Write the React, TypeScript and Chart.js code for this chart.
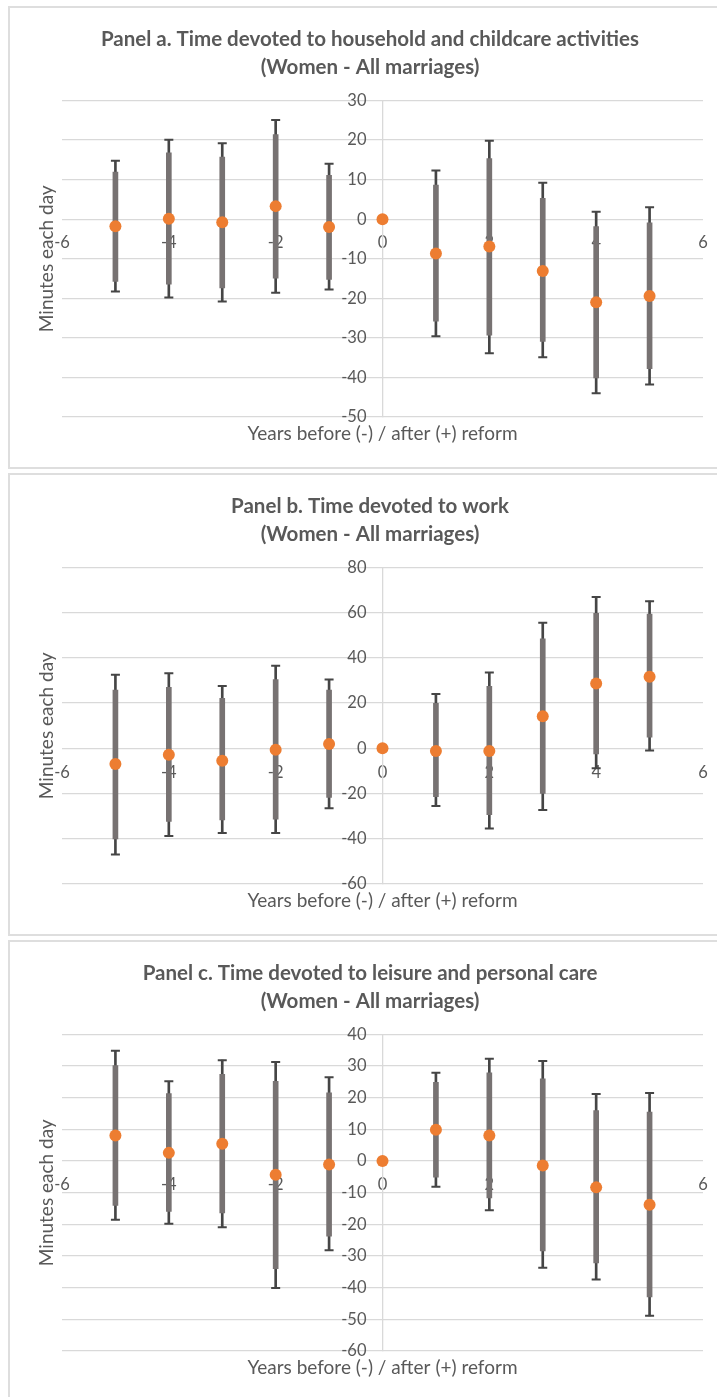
import React, { useEffect, useRef } from "react";
import { Chart, registerables } from "chart.js";

Chart.register(...registerables);

// ---------- data ----------
const years = [-5, -4, -3, -2, -1, 0, 1, 2, 3, 4, 5];
const xAxisTitle = "Years before (-) / after (+) reform";
const yAxisTitle = "Minutes each day";
const subtitle = "(Women - All marriages)";

// Panel a: household and childcare
const aTitle = "Panel a. Time devoted to household and childcare activities";
const aMean = [-1.8, 0.1, -0.8, 3.3, -2.0, 0, -8.7, -6.9, -13.1, -21.0, -19.4];
const aInnerLo = [-15.7, -16.4, -17.4, -14.9, -15.2, null, -25.8, -29.3, -30.9, -40.1, -37.8];
const aInnerHi = [11.9, 16.8, 15.7, 21.4, 11.1, null, 8.6, 15.3, 5.3, -1.9, -0.9];
const aOuterLo = [-18.3, -19.8, -20.8, -18.6, -17.8, null, -29.6, -33.9, -34.9, -44.0, -41.8];
const aOuterHi = [14.8, 20.1, 19.2, 25.1, 14.0, null, 12.3, 19.8, 9.2, 1.9, 3.0];
const aYRange = [-50, 30, 10];

// Panel b: work
const bTitle = "Panel b. Time devoted to work";
const bMean = [-6.9, -2.8, -5.5, -0.6, 1.9, 0, -1.2, -1.2, 14.2, 28.7, 31.7];
const bInnerLo = [-40.1, -32.3, -31.7, -31.3, -21.7, null, -21.4, -29.3, -19.9, -2.5, 4.9];
const bInnerHi = [25.8, 27.0, 22.1, 30.4, 25.8, null, 19.9, 27.4, 48.4, 59.7, 59.4];
const bOuterLo = [-47.0, -38.8, -37.4, -37.4, -26.5, null, -25.5, -35.4, -27.3, -8.8, -0.9];
const bOuterHi = [32.6, 33.2, 27.6, 36.5, 30.5, null, 24.0, 33.5, 55.6, 66.9, 65.1];
const bYRange = [-60, 80, 20];

// Panel c: leisure and personal care
const cTitle = "Panel c. Time devoted to leisure and personal care";
const cMean = [8.1, 2.6, 5.5, -4.3, -1.1, 0, 9.9, 8.1, -1.4, -8.3, -13.8];
const cInnerLo = [-14.0, -15.9, -16.4, -34.0, -23.7, null, -5.1, -11.6, -28.4, -32.2, -42.9];
const cInnerHi = [30.2, 21.3, 27.4, 25.2, 21.6, null, 24.9, 27.9, 26.0, 16.0, 15.5];
const cOuterLo = [-18.5, -19.8, -20.9, -40.1, -28.2, null, -8.1, -15.5, -33.7, -37.4, -48.9];
const cOuterHi = [34.9, 25.2, 31.9, 31.3, 26.5, null, 27.9, 32.3, 31.6, 21.2, 21.5];
const cYRange = [-60, 40, 10];

const xRange = [-6, 6, 2];

// ---------- styles ----------
const ORANGE = "#ED7D31";
const THICK = "#777272";
const THIN = "#454545";
const GRID = "#d9d9d9";
const TEXT = "#595959";
const FONT = "Lato, 'Open Sans', sans-serif";

type Spec = {
  title: string;
  top: number;
  mean: number[];
  innerLo: (number | null)[];
  innerHi: (number | null)[];
  outerLo: (number | null)[];
  outerHi: (number | null)[];
  yRange: number[];
};

const specs: Spec[] = [
  { title: aTitle, top: 6, mean: aMean, innerLo: aInnerLo, innerHi: aInnerHi, outerLo: aOuterLo, outerHi: aOuterHi, yRange: aYRange },
  { title: bTitle, top: 473, mean: bMean, innerLo: bInnerLo, innerHi: bInnerHi, outerLo: bOuterLo, outerHi: bOuterHi, yRange: bYRange },
  { title: cTitle, top: 940, mean: cMean, innerLo: cInnerLo, innerHi: cInnerHi, outerLo: cOuterLo, outerHi: cOuterHi, yRange: cYRange },
];

const W = 724;
const H = 463;
const Y_LABEL_GAP = 16;

function Panel({ spec }: { spec: Spec }) {
  const ref = useRef<HTMLCanvasElement>(null);
  useEffect(() => {
    const canvas = ref.current!;
    const ranges = (lo: (number | null)[], hi: (number | null)[]) =>
      years
        .map((x, i) => (lo[i] == null || hi[i] == null ? null : { x, y: [lo[i], hi[i]] }))
        .filter((d) => d !== null);
    const caps = years.flatMap((x, i) =>
      spec.outerLo[i] == null ? [] : [{ x, y: spec.outerHi[i] }, { x, y: spec.outerLo[i] }]
    );
    const shiftYLabels = {
      id: "shiftYLabels",
      beforeDraw(chart: any) {
        const scale = chart.scales.y;
        const items = scale.getLabelItems(chart.chartArea);
        if (!scale.__shifted) {
          items.forEach((it: any) => {
            it.options.translation = [it.options.translation[0] - Y_LABEL_GAP, it.options.translation[1]];
          });
          scale.__shifted = true;
        }
      },
    };
    const textPlugin = {
      id: "panelText",
      afterDraw(chart: any) {
        const { ctx, chartArea } = chart;
        ctx.save();
        ctx.fillStyle = TEXT;
        ctx.textAlign = "center";
        ctx.textBaseline = "middle";
        ctx.font = `bold 20.5px ${FONT}`;
        ctx.fillText(spec.title, chart.width / 2, 33);
        ctx.fillText(subtitle, chart.width / 2, 61);
        ctx.font = `19px ${FONT}`;
        ctx.fillText(xAxisTitle, (chartArea.left + chartArea.right) / 2, chartArea.bottom + 17);
        ctx.translate(39, (chartArea.top + chartArea.bottom) / 2);
        ctx.rotate(-Math.PI / 2);
        ctx.fillText(yAxisTitle, 0, 0);
        ctx.restore();
      },
    };
    const chart = new Chart(canvas, {
      type: "scatter",
      data: {
        datasets: [
          {
            type: "scatter",
            label: "mean",
            data: years.map((x, i) => ({ x, y: spec.mean[i] })),
            pointRadius: 6,
            pointBackgroundColor: ORANGE,
            pointBorderColor: ORANGE,
            pointBorderWidth: 0,
            order: 0,
          },
          {
            type: "bar",
            label: "inner",
            data: ranges(spec.innerLo, spec.innerHi) as any,
            backgroundColor: THICK,
            borderWidth: 0,
            barThickness: 5,
            grouped: false,
            order: 1,
          },
          {
            type: "scatter",
            label: "caps",
            data: caps as any,
            pointStyle: "line",
            pointRadius: 4.5,
            pointBorderWidth: 2,
            pointBorderColor: THIN,
            order: 2,
          },
          {
            type: "bar",
            label: "outer",
            data: ranges(spec.outerLo, spec.outerHi) as any,
            backgroundColor: THIN,
            borderWidth: 0,
            barThickness: 2,
            grouped: false,
            order: 3,
          },
        ] as any,
      },
      options: {
        animation: false,
        responsive: false,
        events: [],
        layout: { padding: { left: 54, right: 29, top: 94.5, bottom: 52 } },
        plugins: { legend: { display: false }, tooltip: { enabled: false }, title: { display: false } },
        scales: {
          x: {
            type: "linear",
            min: xRange[0],
            max: xRange[1],
            offset: false,
            position: { y: 0 } as any,
            ticks: { stepSize: xRange[2], color: TEXT, font: { family: FONT, size: 16.5 }, padding: 14 },
            grid: { display: false, drawTicks: false },
            border: { display: false },
          },
          y: {
            type: "linear",
            min: spec.yRange[0],
            max: spec.yRange[1],
            position: { x: 0 } as any,
            ticks: { stepSize: spec.yRange[2], color: TEXT, font: { family: FONT, size: 16.5 }, padding: 0 },
            grid: { color: GRID, lineWidth: 1.3, drawTicks: false },
            border: { display: true, color: GRID, width: 1.3 },
          },
        },
      } as any,
      plugins: [shiftYLabels, textPlugin],
    });
    return () => chart.destroy();
  }, [spec]);

  return (
    <div
      style={{
        position: "absolute",
        left: 8,
        top: spec.top,
        width: W,
        height: H,
        border: "2px solid #dedede",
        boxSizing: "border-box",
        background: "#fff",
      }}
    >
      <canvas
        ref={ref}
        width={W}
        height={H}
        style={{ position: "absolute", left: -2, top: -2, width: W, height: H }}
      />
    </div>
  );
}

export default function App() {
  return (
    <div
      style={{
        position: "absolute",
        left: 0,
        top: 0,
        width: 717,
        height: 1397,
        overflow: "hidden",
        background: "#fff",
      }}
    >
      {specs.map((s, i) => (
        <Panel key={i} spec={s} />
      ))}
    </div>
  );
}
